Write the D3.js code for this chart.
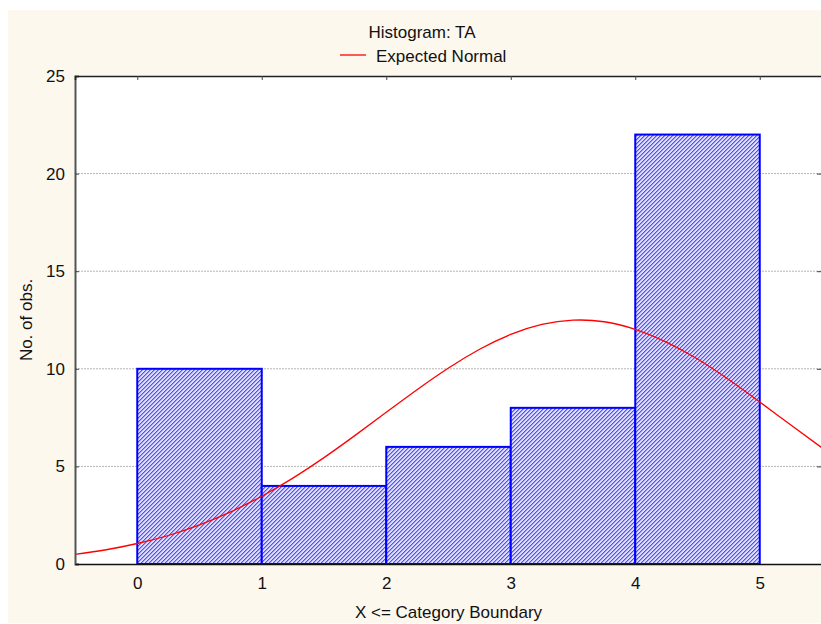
<!DOCTYPE html>
<html><head><meta charset="utf-8">
<script src="https://cdn.jsdelivr.net/npm/d3@7"></script>
<style>body{margin:0;background:#fff}svg{display:block;font-family:"Liberation Sans",Arial,sans-serif}</style>
</head><body>
<svg id="chart" width="821" height="624"></svg>
<script>
const binStarts = [0, 1, 2, 3, 4];
const binEnds = [1, 2, 3, 4, 5];
const counts = [10, 4, 6, 8, 22];
const xTicks = [0, 1, 2, 3, 4, 5];
const yTicks = [0, 5, 10, 15, 20, 25];
const curveX = [-0.5,-0.25,0,0.25,0.5,0.75,1,1.25,1.5,1.75,2,2.25,2.5,2.75,3,3.25,3.5,3.75,4,4.25,4.5,4.75,5,5.25,5.5];
const curveY = [0.49,0.73,1.05,1.46,2.0,2.67,3.47,4.40,5.45,6.59,7.77,8.94,10.04,11.0,11.76,12.27,12.49,12.41,12.02,11.37,10.5,9.45,8.3,7.12,5.95];
const title = "Histogram: TA";
const legendLabel = "Expected Normal";
const xLabel = "X <= Category Boundary";
const yLabel = "No. of obs.";

const FS = 17;
const svg = d3.select("#chart");
const L = 75, R = 822, T = 76, B = 564;
const x = d3.scaleLinear().domain([-0.5, 5.5]).range([L, R]);
const y = d3.scaleLinear().domain([0, 25]).range([B, T]);

svg.append("rect").attr("x", 8).attr("y", 10).attr("width", 813).attr("height", 613).attr("fill", "#fdf8ee");
svg.append("rect").attr("x", L).attr("y", T).attr("width", R - L).attr("height", B - T).attr("fill", "#fff");

const defs = svg.append("defs");
const pat = defs.append("pattern").attr("id", "hatch").attr("patternUnits", "userSpaceOnUse").attr("width", 4).attr("height", 4);
pat.append("rect").attr("width", 4).attr("height", 4).attr("fill", "#dcdcff").attr("shape-rendering", "crispEdges");
[0, 1, 2, 3].forEach(k => {
  pat.append("rect").attr("x", k).attr("y", 3 - k).attr("width", 1).attr("height", 1).attr("fill", "#5050ff").attr("shape-rendering", "crispEdges");
  pat.append("rect").attr("x", (k + 1) % 4).attr("y", 3 - k).attr("width", 1).attr("height", 1).attr("fill", "#9c9cff").attr("shape-rendering", "crispEdges");
});
defs.append("clipPath").attr("id", "plotclip").append("rect").attr("x", L).attr("y", T).attr("width", R - L).attr("height", B - T);

// gridlines
svg.append("g").selectAll("line").data(yTicks.filter(d => d > 0 && d < 25)).join("line")
  .attr("x1", L).attr("x2", R).attr("y1", d => y(d)).attr("y2", d => y(d))
  .attr("stroke", "#b4b4b4").attr("stroke-width", 1).attr("stroke-dasharray", "2,1");

// bars
svg.append("g").selectAll("rect").data(counts).join("rect")
  .attr("x", (d, i) => x(binStarts[i])).attr("width", (d, i) => x(binEnds[i]) - x(binStarts[i]))
  .attr("y", d => y(d)).attr("height", d => y(0) - y(d))
  .attr("fill", "url(#hatch)").attr("stroke", "#0000ff").attr("stroke-width", 2);

// normal curve
const line = d3.line().x((d, i) => x(curveX[i])).y(d => y(d)).curve(d3.curveNatural);
svg.append("path").datum(curveY).attr("d", line).attr("clip-path", "url(#plotclip)")
  .attr("fill", "none").attr("stroke", "#ff0000").attr("stroke-width", 1.3);

// axes
const fmt = d3.format("d");
const yAxis = d3.axisLeft(y).tickValues(yTicks).tickFormat(fmt).tickSize(-4).tickPadding(10);
const gy = svg.append("g").attr("transform", `translate(${L},0)`).call(yAxis);
gy.select(".domain").attr("stroke", "#555").attr("stroke-width", 2);
const yAxisR = d3.axisRight(y).tickValues(yTicks).tickSize(-4).tickFormat("");
const gyr = svg.append("g").attr("transform", `translate(${R - 1},0)`).call(yAxisR);
gyr.select(".domain").remove();
const xAxis = d3.axisBottom(x).tickValues(xTicks).tickFormat(fmt).tickSize(0).tickPadding(13);
const gx = svg.append("g").attr("transform", `translate(0,${B})`).call(xAxis);
gx.select(".domain").attr("stroke", "#111").attr("stroke-width", 1.5);
const xAxisT = d3.axisTop(x).tickValues(xTicks).tickSize(-4).tickFormat("");
const gxt = svg.append("g").attr("transform", `translate(0,${T})`).call(xAxisT);
gxt.select(".domain").attr("stroke", "#222").attr("stroke-width", 1.5);
svg.selectAll(".tick line").attr("stroke", "#444");
svg.selectAll(".tick text").attr("font-size", FS).attr("fill", "#111").attr("font-family", "Liberation Sans, Arial, sans-serif");

// titles
svg.append("text").attr("x", 422).attr("y", 38).attr("text-anchor", "middle").attr("font-size", FS).attr("fill", "#111").text(title);
svg.append("line").attr("x1", 340).attr("x2", 366).attr("y1", 55).attr("y2", 55).attr("stroke", "#ff0000").attr("stroke-width", 1.3);
svg.append("text").attr("x", 376).attr("y", 62).attr("font-size", FS).attr("fill", "#111").text(legendLabel);
svg.append("text").attr("x", (L + R) / 2).attr("y", 618).attr("text-anchor", "middle").attr("font-size", FS).attr("fill", "#111").text(xLabel);
svg.append("text").attr("transform", `translate(32,${(T + B) / 2}) rotate(-90)`).attr("text-anchor", "middle").attr("font-size", FS).attr("fill", "#111").text(yLabel);
</script>
</body></html>
